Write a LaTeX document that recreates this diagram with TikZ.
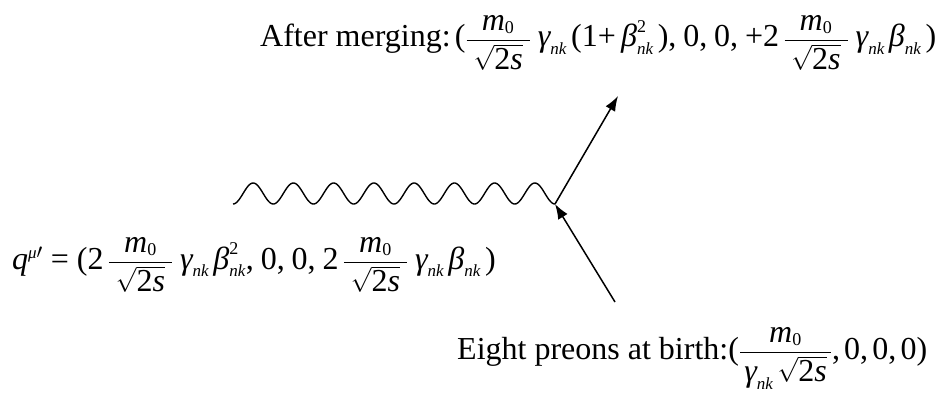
\documentclass[tikz,border=0pt]{standalone}
\usepackage{amsmath}
\usepackage{fontspec}
\setmainfont{Liberation Serif}
\usetikzlibrary{arrows.meta}
\newcommand\tx[1]{\text{#1}}
\newcommand\vi[1]{\text{\itshape #1}}
\newcommand\sbs[1]{\text{\fontsize{17}{17}\selectfont\itshape #1}}
\newcommand\sps[1]{\text{\fontsize{18}{18}\selectfont #1}}
\newcommand\fr{\dfrac{\vi{m}_{\sps{0}}}{\;\sqrt{\tx{2}\vi{s}}\;}}
\begin{document}
\begin{tikzpicture}[x=1pt,y=-1pt,
  lbl/.style={inner sep=0pt, font=\fontsize{32}{38}\selectfont},
  arr/.style={line width=1.5pt, -{Latex[length=15pt,width=11pt]}},
  wave/.style={line width=1.4pt}]
\useasboundingbox (0,0) rectangle (936,404);
\node[lbl, anchor=base west] (after) at (260,47)
  {After merging:$\displaystyle\,\tx{(}\fr\;\vi{γ}_{\sbs{nk}}\,\tx{(1+\,}\vi{β}^{\sps{2}}_{\sbs{nk}}\,\tx{),}\;\tx{0,}\;\tx{0,}\;\tx{+2}\,\fr\;\vi{γ}_{\sbs{nk}}\,\vi{β}_{\sbs{nk}}\,\tx{)}$};
\node[lbl, anchor=base west] (q) at (12,269)
  {$\displaystyle\vi{q}^{\sbs{μ}\prime}\tx{ = (2}\,\fr\;\vi{γ}_{\sbs{nk}}\,\vi{β}^{\sps{2}}_{\sbs{nk}}\tx{,}\;\tx{0,}\;\tx{0,}\;\tx{2}\,\fr\;\vi{γ}_{\sbs{nk}}\,\vi{β}_{\sbs{nk}}\,\tx{)}$};
\node[lbl, anchor=base west] (birth) at (457,359)
  {Eight preons at birth:$\displaystyle\tx{(}\dfrac{\vi{m}_{\sps{0}}}{\,\vi{γ}_{\sbs{nk}}\,\sqrt{\tx{2}\vi{s}}\,}\tx{,}\,\tx{0,}\,\tx{0,}\,\tx{0)}$};
\coordinate (v) at (555,204);
\coordinate (outend) at (618,96);
\coordinate (instart) at (615,302);
\draw[wave] plot[domain=0:8, samples=320, smooth] ({233+40.25*\x},{193.5+10.5*cos(360*\x)}) -- (v);
\draw[arr] (v) -- (outend);
\draw[arr] (instart) -- (v);
\end{tikzpicture}
\end{document}
